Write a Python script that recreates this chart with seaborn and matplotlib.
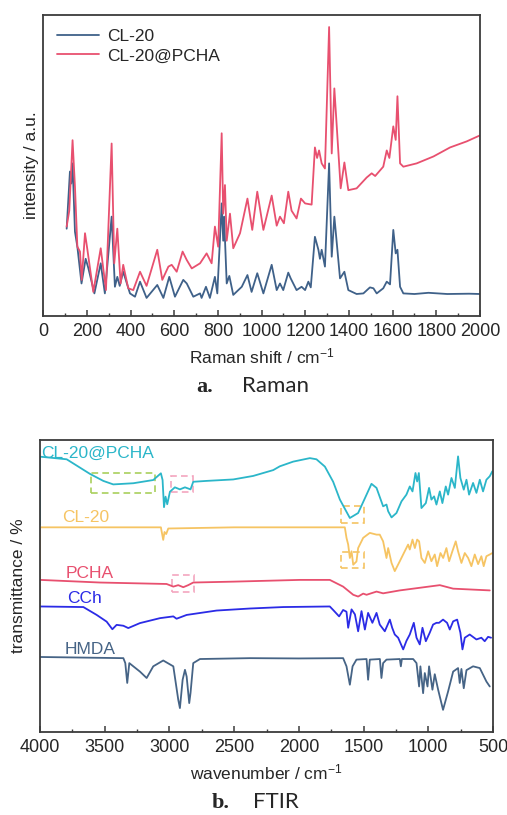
import numpy as np
import pandas as pd
import matplotlib
matplotlib.use("Agg")
import matplotlib.pyplot as plt
from matplotlib.patches import Rectangle
from matplotlib.ticker import MultipleLocator
import seaborn as sns

# ---- Raman (a) ----
raman_cl20_x = [107, 122, 128, 134, 145, 156, 175, 194, 206, 234, 263, 282, 313, 328, 339, 350, 366, 397, 420,
                443, 473, 522, 550, 577, 603, 641, 657, 687, 718, 725, 745, 763, 786, 797, 817, 824, 828, 840,
                852, 870, 909, 935, 954, 980, 1008, 1046, 1069, 1084, 1099, 1122, 1133, 1160, 1183, 1199, 1214,
                1225, 1244, 1260, 1267, 1275, 1290, 1309, 1321, 1333, 1359, 1379, 1397, 1435, 1466, 1496, 1512,
                1527, 1557, 1573, 1588, 1603, 1614, 1622, 1634, 1649, 1700, 1764, 1850, 1950, 2000]
raman_cl20_y = [29, 48, 44, 50.7, 28, 23, 10.8, 19, 16, 7.5, 17.5, 7.5, 33, 9.7, 13, 10, 14.7, 7.5, 6.4,
                11.4, 6, 10.3, 6, 13, 6.4, 12, 10.8, 6.4, 7.5, 6, 9.7, 6, 13, 7.5, 37.4, 25, 33, 10.8,
                13.3, 7, 9.7, 13.6, 8, 14.2, 7.5, 17, 8.6, 10.8, 8.6, 14.4, 12.5, 8.6, 9.7, 8.6, 11.4,
                9.5, 26.3, 22, 19, 22, 16.4, 50.7, 19.7, 33, 12.5, 14.7, 8.6, 7.3, 7.5, 9.5, 9.2,
                7.5, 9.2, 11.4, 10.5, 28.6, 20.8, 22, 9.7, 7.5, 7.3, 7.7, 7.3, 7.4, 7.3]

raman_pcha_x = [107, 119, 134, 145, 156, 168, 176, 191, 202, 229, 263, 287, 313, 325, 339, 354, 366, 389, 412,
                443, 473, 522, 545, 573, 588, 611, 638, 657, 680, 718, 748, 771, 786, 801, 817, 824, 832, 840,
                855, 870, 901, 935, 957, 980, 1008, 1046, 1069, 1084, 1102, 1122, 1137, 1160, 1180, 1199, 1229,
                1244, 1254, 1263, 1275, 1290, 1309, 1321, 1333, 1362, 1379, 1397, 1435, 1481, 1504, 1520, 1557,
                1573, 1585, 1603, 1614, 1622, 1634, 1649, 1710, 1787, 1863, 1939, 2000]
raman_pcha_y = [29.7, 35, 58.4, 43, 23, 21.4, 12, 27.5, 22, 8, 22.5, 8.6, 57.3, 17.5, 29, 10.8, 17, 9.2, 8.6,
                14.7, 10, 22, 12, 16.4, 17, 14.7, 21.4, 18.6, 15.8, 17.5, 20.8, 17.5, 29.7, 23, 60.7, 34, 43.5, 25,
                34, 22.5, 27.5, 39, 28.6, 41.3, 28.6, 40, 30, 33, 30.8, 41.3, 35, 32.4, 39, 37.4, 37,
                56, 52.5, 55, 50.7, 49, 96, 54, 75.6, 42.4, 51, 41.8, 42.4, 46, 47.4, 46.5, 49.6,
                55, 52.5, 63, 58.5, 73, 50.7, 49.6, 50.7, 53, 56, 58, 60]

# ---- FTIR (b) ----
ftir_cyan_x = [4000, 4000, 3794, 3614, 3511, 3434, 3279, 3125, 3066, 3053, 3042, 3030, 3017, 2996, 2958, 2919,
               2880, 2837, 2816, 2713, 2507, 2353, 2198, 2147, 2044, 1915, 1864, 1799, 1735, 1683, 1606, 1542,
               1477, 1439, 1400, 1349, 1323, 1310, 1284, 1246, 1207, 1169, 1143, 1122, 1099, 1086, 1073, 1053,
               1019, 994, 976, 955, 937, 911, 891, 865, 847, 821, 795, 770, 752, 726, 705, 685, 654, 628, 602,
               577, 551, 525, 505]
ftir_cyan_y = [71, 94.3, 93.4, 88.4, 86, 84.8, 85.2, 86.3, 88.6, 86.3, 77, 80.6, 78, 82.3, 83.8, 83.1,
               83.8, 83.1, 85.7, 86, 86.5, 87.7, 89.7, 91, 92.6, 93.8, 93.4, 90.9, 85.7, 79.6, 73.3, 75,
               81.3, 85, 83.6, 77.3, 77.9, 75.6, 73.5, 75, 79, 81.3, 84.1, 82.4, 88.7, 85.8, 88.7, 76.7,
               78.4, 83.6, 79.6, 80.7, 77.9, 82.4, 78.4, 84.1, 81.3, 87, 83.6, 94.4, 87, 83, 86.4, 81.3, 85.3, 81.9, 86.4,
               82.4, 86.4, 87.6, 89.3]

ftir_cl20_x = [4000, 4000, 3500, 3066, 3048, 3038, 3025, 3009, 2500, 2000, 1645, 1632, 1619, 1606, 1593, 1580,
               1555, 1542, 1503, 1452, 1400, 1375, 1349, 1323, 1310, 1284, 1259, 1220, 1182, 1156, 1143, 1122,
               1104, 1086, 1071, 1053, 1027, 1001, 976, 950, 932, 906, 885, 860, 839, 814, 788, 770, 744, 718,
               692, 667, 641, 615, 590, 572, 551, 525, 505]
ftir_cl20_y = [44, 70.1, 70.1, 70.1, 65.8, 68.5, 67.8, 69.7, 70.1, 70.1, 70.1, 66.5, 64.2, 59.6, 61.9, 57.3,
               58.4, 63, 66.5, 68.2, 67.6, 67.6, 65.3, 59.6, 63, 57.9, 55.1, 58.5, 61.9, 64.2, 62.5, 65.9,
               63, 65.9, 65.3, 59.6, 57.9, 61.9, 58.5, 60.8, 56.8, 61.3, 59.6, 63, 58.5, 61.9, 65.3, 61.9, 57.9, 61.3,
               59.6, 56.8, 60.8, 57.5, 60.2, 56.8, 60.2, 60.8, 61.3]

ftir_pcha_x = [4000, 3537, 3022, 2970, 2932, 2893, 2855, 2816, 2507, 1992, 1761, 1658, 1580, 1542, 1503, 1477,
               1400, 1349, 1220, 911, 808, 525]
ftir_pcha_y = [52.1, 51.2, 50.7, 49.8, 50.3, 49.6, 50.3, 51.2, 51.5, 52.1, 52.1, 49.8, 47, 46.4, 47.4, 47,
               48.1, 47.5, 48.5, 50.3, 49.1, 48.5]

ftir_cch_x = [4000, 3665, 3562, 3485, 3441, 3408, 3356, 3318, 3228, 3073, 2970, 2945, 2867, 2636, 2378, 2121,
              1761, 1735, 1689, 1658, 1632, 1619, 1593, 1567, 1542, 1516, 1490, 1465, 1432, 1400, 1375, 1336,
              1297, 1279, 1259, 1233, 1194, 1169, 1143, 1112, 1091, 1066, 1045, 1019, 989, 963, 937, 917, 886,
              855, 834, 808, 777, 752, 736, 718, 680, 628, 590, 564, 538, 515]
ftir_cch_y = [43, 42.8, 40.1, 37.8, 35.2, 36.7, 36.4, 35.6, 37.3, 39, 39.6, 38.8, 40.1, 41.6, 42.3, 42.8,
              43, 41.8, 39.6, 41.8, 41.2, 35.7, 42, 40.3, 34.5, 41.4, 35.1, 40.8, 37.4, 40.8, 36.8, 34.5,
              38.5, 35.7, 33.4, 32.3, 28.3, 31.2, 33.4, 37.4, 32.3, 30, 35.7, 31.1, 34, 36.8, 37.4, 37.4, 38.5,
              37.4, 35.1, 37.9, 38.5, 34, 28.3, 32.3, 33.4, 31.7, 32.3, 31.1, 32.6, 32.3]

ftir_hmda_x = [4000, 3356, 3341, 3326, 3310, 3279, 3228, 3176, 3125, 3048, 2970, 2932, 2919, 2898, 2880, 2867,
               2847, 2837, 2816, 2764, 2378, 2000, 1658, 1632, 1606, 1585, 1555, 1477, 1465, 1452, 1374, 1362,
               1349, 1323, 1220, 1212, 1204, 1117, 1091, 1071, 1061, 1040, 1027, 1006, 994, 968, 950, 924, 886,
               847, 808, 770, 757, 744, 726, 705, 654, 602, 551, 525]
ftir_hmda_y = [25.7, 25.3, 23.6, 16.8, 23.6, 22.5, 20.7, 18.5, 22.5, 24.5, 22.5, 11.1, 8.2, 17.9, 21.3, 19,
               9.9, 13.4, 23.6, 25, 25.3, 25.2, 25.3, 22.5, 16.2, 22.5, 24.8, 25, 17.9, 24.8, 25, 18.5,
               23.6, 24.8, 25, 22.5, 25, 25, 23.6, 15.6, 22.5, 13.3, 20.2, 15.6, 22.5, 14.5, 19.8, 14.5, 7.6,
               13.9, 20.7, 21.9, 16.8, 21.6, 15, 21.2, 22.5, 21.9, 17.3, 15.6]

# dashed boxes: (x_left, x_right, y_bottom, y_top)
box_specs = [((3609, 3112, 82.0, 88.6), "#a9d05c"),
             ((2988, 2821, 82.1, 87.7), "#f4a6bf"),
             ((1671, 1496, 71.7, 77.5), "#f5c462"),
             ((1671, 1496, 56.1, 61.8), "#f5c462"),
             ((2983, 2811, 47.8, 53.8), "#f4a6bf")]

sns.set_style("ticks")
plt.rcParams["font.family"] = ["Liberation Sans", "DejaVu Sans"]
plt.rcParams["mathtext.fontset"] = "custom"
plt.rcParams["mathtext.rm"] = "Liberation Sans"
plt.rcParams["mathtext.it"] = "Liberation Sans"

c_blue = "#3f6189"
c_red = "#e8506f"

fig = plt.figure(figsize=(5.07, 8.15), dpi=100)
ax1 = fig.add_axes([0.0854, 0.6123, 0.8613, 0.3693])
ax2 = fig.add_axes([0.0789, 0.1018, 0.8935, 0.3583])

df_cl20 = pd.DataFrame({"x": raman_cl20_x, "y": raman_cl20_y})
df_pcha = pd.DataFrame({"x": raman_pcha_x, "y": raman_pcha_y})
sns.lineplot(data=df_cl20, x="x", y="y", ax=ax1, color=c_blue, lw=1.3, estimator=None, sort=False, label="CL-20")
sns.lineplot(data=df_pcha, x="x", y="y", ax=ax1, color=c_red, lw=1.3, estimator=None, sort=False, label="CL-20@PCHA")
ax1.set_xlim(0, 2000)
ax1.set_ylim(0, 100)
ax1.xaxis.set_major_locator(MultipleLocator(200))
ax1.xaxis.set_minor_locator(MultipleLocator(100))
ax1.set_yticks([])
ax1.set_xlabel("Raman shift / cm$^{-1}$", fontsize=12.5, labelpad=5)
ax1.set_ylabel("intensity / a.u.", fontsize=12.5, labelpad=3)
leg = ax1.legend(loc="upper left", frameon=False, fontsize=12.5, handlelength=2.4,
                 handletextpad=0.5, labelspacing=0.25, borderaxespad=0.4)

ftir_sets = [(ftir_cyan_x, ftir_cyan_y, "#2bb6c9"),
             (ftir_cl20_x, ftir_cl20_y, "#f6c463"),
             (ftir_pcha_x, ftir_pcha_y, "#e8506f"),
             (ftir_cch_x, ftir_cch_y, "#2b2be6"),
             (ftir_hmda_x, ftir_hmda_y, "#466486")]
for xs, ys, col in ftir_sets:
    sns.lineplot(x=xs, y=ys, ax=ax2, color=col, lw=1.3, estimator=None, sort=False)
ax2.set_xlim(4000, 500)
ax2.set_ylim(0, 100)
ax2.xaxis.set_major_locator(MultipleLocator(500))
ax2.xaxis.set_minor_locator(MultipleLocator(250))
ax2.set_yticks([])
ax2.set_xlabel("wavenumber / cm$^{-1}$", fontsize=12.5, labelpad=5)
ax2.set_ylabel("transmittance / %", fontsize=12.5, labelpad=10)

for (x0, x1, y0, y1), col in box_specs:
    ax2.add_patch(Rectangle((x0, y0), x1 - x0, y1 - y0, fill=False, ec=col, ls=(0, (4, 2.5)), lw=1.2))

ftir_labels = [("CL-20@PCHA", 3990, 92.8, "#2bb6c9"),
               ("CL-20", 3830, 71.0, "#f6c463"),
               ("PCHA", 3800, 51.8, "#e8506f"),
               ("CCh", 3790, 43.3, "#2b2be6"),
               ("HMDA", 3810, 25.8, "#466486")]
for txt, xx, yy, col in ftir_labels:
    ax2.text(xx, yy, txt, color=col, fontsize=12.5, ha="left", va="bottom")

for ax in (ax1, ax2):
    for sp in ax.spines.values():
        sp.set_color("#3c3c3c")
        sp.set_linewidth(1.3)
    ax.tick_params(axis="x", which="both", direction="in", top=False, labelsize=13, color="#3c3c3c")
    ax.tick_params(axis="x", which="major", length=4, width=1.1, pad=5)
    ax.tick_params(axis="x", which="minor", length=2.5, width=1.0)

# captions under each panel
fig.text(196 / 507, 1 - 387 / 815, "a.", fontsize=16, family="Liberation Serif", weight="bold",
         ha="left", va="center")
fig.text(242 / 507, 1 - 386 / 815, "Raman", fontsize=16, family="Lato", ha="left", va="center")
fig.text(212 / 507, 1 - 803 / 815, "b.", fontsize=16, family="Liberation Serif", weight="bold",
         ha="left", va="center")
fig.text(253 / 507, 1 - 802 / 815, "FTIR", fontsize=16, family="Lato", ha="left", va="center")

fig.savefig("out.png", dpi=100)
